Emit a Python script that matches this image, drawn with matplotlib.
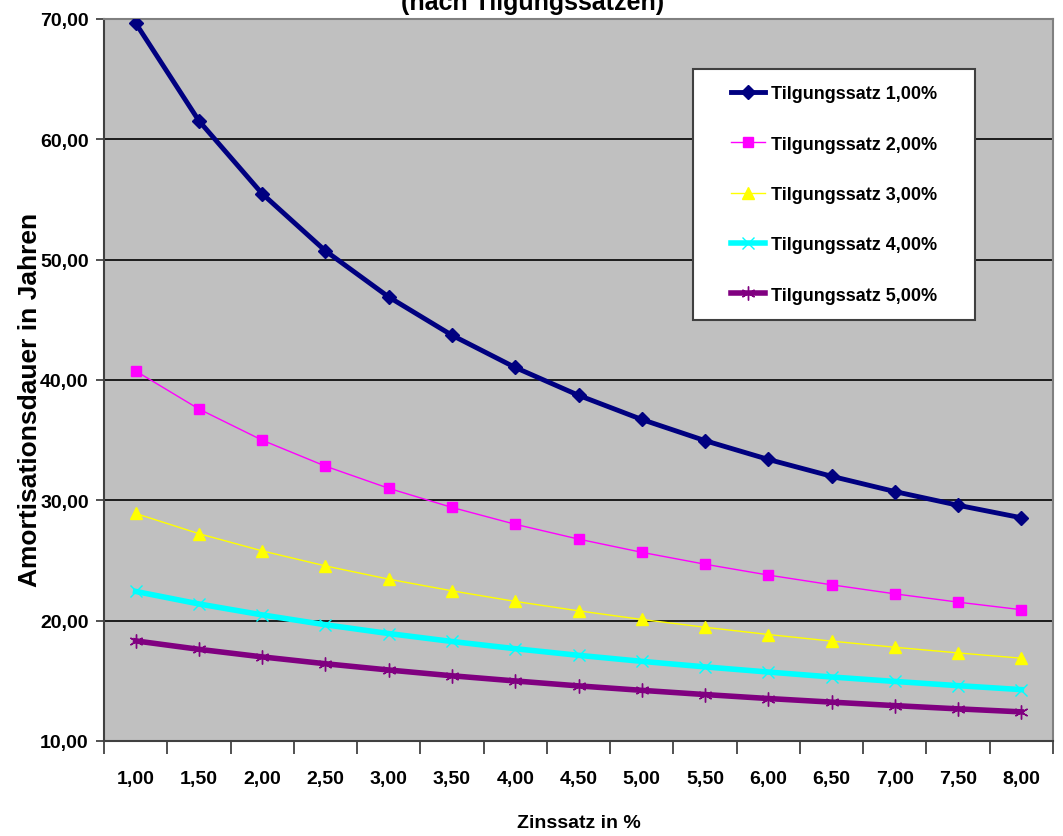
import numpy as np
import matplotlib.pyplot as plt
from matplotlib import font_manager
from matplotlib.patches import Rectangle
from matplotlib.ticker import FixedLocator, FuncFormatter

# Zinssätze (Kategorien) und Laufzeiten je Tilgungssatz
zinssaetze = ["1,00", "1,50", "2,00", "2,50", "3,00", "3,50", "4,00", "4,50",
              "5,00", "5,50", "6,00", "6,50", "7,00", "7,50", "8,00"]

tilgung_1 = [69.66, 61.54, 55.48, 50.73, 46.90, 43.72, 41.04, 38.73,
             36.72, 34.96, 33.40, 32.00, 30.73, 29.59, 28.55]
tilgung_2 = [40.75, 37.59, 35.00, 32.84, 31.00, 29.41, 28.01, 26.78,
             25.68, 24.69, 23.79, 22.98, 22.23, 21.54, 20.91]
tilgung_3 = [28.91, 27.23, 25.80, 24.55, 23.45, 22.48, 21.60, 20.82,
             20.10, 19.45, 18.85, 18.30, 17.79, 17.32, 16.88]
tilgung_4 = [22.43, 21.39, 20.48, 19.66, 18.93, 18.27, 17.67, 17.12,
             16.62, 16.16, 15.73, 15.32, 14.95, 14.60, 14.27]
tilgung_5 = [18.32, 17.62, 16.99, 16.42, 15.90, 15.42, 14.99, 14.58,
             14.21, 13.86, 13.53, 13.23, 12.94, 12.67, 12.42]

labels = ["Tilgungssatz 1,00%", "Tilgungssatz 2,00%", "Tilgungssatz 3,00%",
          "Tilgungssatz 4,00%", "Tilgungssatz 5,00%"]

# schmale Schrift, falls vorhanden
installiert = {f.name for f in font_manager.fontManager.ttflist}
schmal = [n for n in ("Liberation Sans Narrow", "Liberation Sans") if n in installiert]
schrift = schmal + ["DejaVu Sans"]

W, H = 1063, 837
fig = plt.figure(figsize=(W / 100, H / 100), dpi=100)
ax = fig.add_axes([104 / W, 1 - 742 / H, 949 / W, 722 / H])
ax.set_facecolor("#C0C0C0")

x = np.arange(len(zinssaetze))

ax.plot(x, tilgung_1, color="#000080", lw=3.5, marker="D", ms=7,
        label=labels[0], zorder=5)
ax.plot(x, tilgung_2, color="#FF00FF", lw=1.0, marker="s", ms=7,
        label=labels[1], zorder=4)
ax.plot(x, tilgung_3, color="#FFFF00", lw=1.0, marker="^", ms=8,
        label=labels[2], zorder=4)
ax.plot(x, tilgung_4, color="#00FFFF", lw=4.0, marker="x", ms=9, mew=1,
        label=labels[3], zorder=4)
ax.plot(x, tilgung_5, color="#800080", lw=4.0, marker=(6, 2, 0), ms=10, mew=1,
        label=labels[4], zorder=4)

# Achsen im Excel-Stil
ax.set_ylim(10, 70)
ax.set_xlim(-0.5, len(zinssaetze) - 0.5)
ax.set_yticks(np.arange(10, 71, 10))
ax.yaxis.set_major_formatter(FuncFormatter(lambda v, p: f"{v:.2f}".replace(".", ",")))
ax.grid(axis="y", color="black", lw=1.2)
ax.set_axisbelow(True)

ax.xaxis.set_major_locator(FixedLocator(np.arange(-0.5, len(zinssaetze), 1.0)))
ax.xaxis.set_minor_locator(FixedLocator(x))
ax.set_xticklabels([], minor=False)
ax.set_xticklabels(zinssaetze, minor=True)
ax.tick_params(axis="x", which="major", length=9, width=1.2, color="#333333")
ax.tick_params(axis="x", which="minor", length=0, pad=21)
ax.tick_params(axis="y", length=6, width=1.2, color="#333333", pad=5)

for lab in ax.get_xticklabels(minor=True) + ax.get_yticklabels():
    lab.set_fontfamily(schrift)
    lab.set_fontweight("bold")
    lab.set_fontsize(14)

for side in ("left", "bottom"):
    ax.spines[side].set_color("#404040")
    ax.spines[side].set_linewidth(1.5)
for side in ("top", "right"):
    ax.spines[side].set_color("#808080")
    ax.spines[side].set_linewidth(1.5)

ax.set_xlabel("Zinssatz in %", fontfamily=schrift, fontweight="bold",
              fontsize=14, labelpad=19)
fig.text(30 / W, 1 - 400 / H, "Amortisationsdauer in Jahren", rotation=90,
         ha="center", va="center", fontfamily=["Liberation Sans", "DejaVu Sans"],
         fontweight="bold", fontsize=19)

# Titel läuft oben aus dem Bild
fig.text(533 / W, 1 - 15 / H, "(nach Tilgungssätzen)", ha="center",
         va="bottom", fontfamily=schrift, fontweight="bold", fontsize=18)

# Legendenrahmen
box = (693 / W, 1 - 321 / H, 282 / W, 251 / H)
ax.add_patch(Rectangle(box[:2], box[2], box[3], transform=fig.transFigure,
                       facecolor="white", edgecolor="#404040", lw=1.5,
                       zorder=6, clip_on=False))
leg = ax.legend(loc="center", bbox_to_anchor=(box[0] + box[2] / 2, box[1] + box[3] / 2),
                bbox_transform=fig.transFigure, frameon=False,
                borderpad=0, labelspacing=1.85, handlelength=1.9,
                handletextpad=0.35,
                prop={"family": schrift, "weight": "bold", "size": 13})
leg.set_zorder(7)

fig.savefig("out.png", dpi=100, facecolor="white")
